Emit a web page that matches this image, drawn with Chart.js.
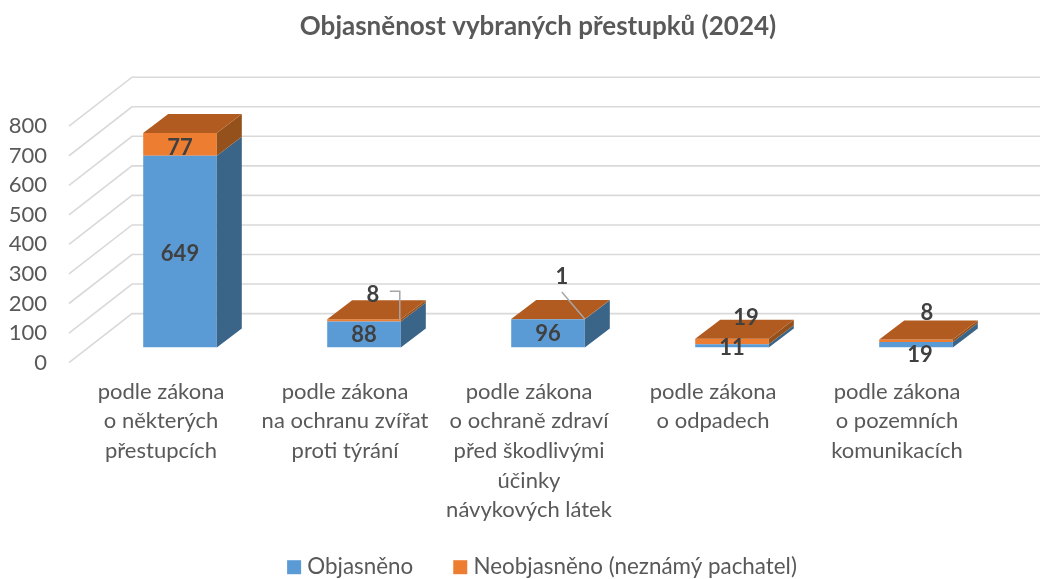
<!DOCTYPE html>
<html lang="cs">
<head>
<meta charset="utf-8">
<style>html,body{margin:0;padding:0;background:#fff}#wrap{width:1040px;height:579px}</style>
<script src="https://cdn.jsdelivr.net/npm/chart.js@4"></script>
</head>
<body>
<div id="wrap"><canvas id="c" width="1040" height="579"></canvas></div>
<script>
const chartTitle = 'Objasněnost vybraných přestupků (2024)';
const categories = [
  ['podle zákona', 'o některých', 'přestupcích'],
  ['podle zákona', 'na ochranu zvířat', 'proti týrání'],
  ['podle zákona', 'o ochraně zdraví', 'před škodlivými', 'účinky', 'návykových látek'],
  ['podle zákona', 'o odpadech'],
  ['podle zákona', 'o pozemních', 'komunikacích']
];
const seriesNames = ['Objasněno', 'Neobjasněno (neznámý pachatel)'];
const solved = [649, 88, 96, 11, 19];
const unsolved = [77, 8, 1, 19, 8];
const yMin = 0, yMax = 800, yStep = 100;

// label nudges from the segment centre, in pixels
const solvedLabelOffsets = [[0,2],[0,0],[0,0],[0,2],[4,10]];
const unsolvedLabelOffsets = [[0,3],[9,-26],[14,-42],[14,-24],[11,-28]];
// leader line bends, in pixels relative to the top-right front corner of the bar
const leaders = {1:[[-11,-28],[-1,-28],[-1,0]], 2:[[-23,-27],[0,0]]};

const FONT = 'Lato, "Open Sans", sans-serif';
const TEXT = '#595959';
const depth = {x:25, y:19};
const wall = {x:63, y:49};
const shift = {x:19, y:-15};
const faces = [
  {front:'#5B9BD5', side:'#3A6589', top:'#3A6589'},
  {front:'#ED7D31', side:'#95511C', top:'#B25B20'}
];

function poly(ctx, pts, fill){
  ctx.beginPath();
  pts.forEach((p,i)=> i? ctx.lineTo(p[0],p[1]) : ctx.moveTo(p[0],p[1]));
  ctx.closePath();
  ctx.fillStyle = fill;
  ctx.fill();
}

const scene3d = {
  id:'scene3d',
  afterLayout(chart){
    // tick text may use the full margin of the canvas
    chart.scales.y.left = 0;
    chart.scales.x.bottom = chart.height;
    // title and legend are centred on the whole picture, not on the plot
    chart.titleBlock.right = chart.width;
    chart.legend.right = 1053;
    chart.legend.top = 511;
  },
  beforeDatasetsDraw(chart){
    const {ctx, scales:{y}, chartArea:a} = chart;
    ctx.save();
    ctx.strokeStyle = '#D9D9D9';
    ctx.lineWidth = 1.6;
    y.ticks.forEach(t=>{
      const py = y.getPixelForValue(t.value);
      ctx.beginPath();
      ctx.moveTo(a.left, py);
      ctx.lineTo(a.left+wall.x, py-wall.y);
      ctx.lineTo(a.right+wall.x, py-wall.y);
      ctx.stroke();
    });
    ctx.restore();
    ctx.save();
    ctx.translate(shift.x, shift.y);
  },
  afterDatasetsDraw(chart){
    const {ctx} = chart;
    const metas = [chart.getDatasetMeta(0), chart.getDatasetMeta(1)];
    metas.forEach((m,d)=>{
      m.data.forEach(b=>{
        const r = b.x + b.width/2;
        const t = Math.min(b.y,b.base), u = Math.max(b.y,b.base);
        poly(ctx, [[r,u],[r+depth.x,u-depth.y],[r+depth.x,t-depth.y],[r,t]], faces[d].side);
      });
    });
    metas[1].data.forEach(b=>{
      const l = b.x - b.width/2, r = b.x + b.width/2, t = b.y;
      poly(ctx, [[l,t],[l+depth.x,t-depth.y],[r+depth.x,t-depth.y],[r,t]], faces[1].top);
    });
    // leader lines
    ctx.strokeStyle = '#A6A6A6';
    ctx.lineWidth = 1.5;
    Object.keys(leaders).forEach(k=>{
      const b = metas[1].data[k], r = b.x + b.width/2, t = b.y;
      ctx.beginPath();
      leaders[k].forEach((p,i)=> i? ctx.lineTo(r+p[0],t+p[1]) : ctx.moveTo(r+p[0],t+p[1]));
      ctx.stroke();
    });
    // value labels
    ctx.fillStyle = '#404040';
    ctx.font = 'bold 22px ' + FONT;
    ctx.textAlign = 'center';
    ctx.textBaseline = 'middle';
    [[solved,solvedLabelOffsets],[unsolved,unsolvedLabelOffsets]].forEach(([vals,offs],d)=>{
      metas[d].data.forEach((b,i)=>{
        ctx.fillText(String(vals[i]), b.x+offs[i][0], (b.y+b.base)/2+offs[i][1]);
      });
    });
    ctx.restore();
  }
};

new Chart(document.getElementById('c'), {
  type:'bar',
  data:{
    labels:categories,
    datasets:[
      {label:seriesNames[0], data:solved, backgroundColor:faces[0].front, borderWidth:0},
      {label:seriesNames[1], data:unsolved, backgroundColor:faces[1].front, borderWidth:0}
    ]
  },
  plugins:[scene3d],
  options:{
    responsive:false,
    animation:false,
    layout:{padding:{left:36,right:51,top:0,bottom:-14}},
    datasets:{bar:{barPercentage:0.4, categoryPercentage:1}},
    scales:{
      x:{
        stacked:true,
        grid:{display:false, drawTicks:false},
        border:{display:false},
        afterFit(s){ s.height = 153; },
        ticks:{color:TEXT, padding:14, autoSkip:false, maxRotation:0, minRotation:0,
          font:{family:FONT, size:22, lineHeight:1.35}}
      },
      y:{
        stacked:true,
        min:yMin, max:yMax,
        grid:{display:false, drawTicks:false},
        border:{display:false},
        afterFit(s){ s.width = 33; },
        ticks:{stepSize:yStep, color:TEXT, padding:22, font:{family:FONT, size:22}}
      }
    },
    plugins:{
      title:{display:true, text:chartTitle, color:TEXT,
        font:{family:FONT, size:26, weight:'bold'}, padding:{top:11,bottom:84}},
      legend:{position:'bottom', labels:{color:TEXT, usePointStyle:true, pointStyle:'rect',
        boxWidth:4, boxHeight:14, padding:45, font:{family:FONT, size:22.4}}},
      tooltip:{enabled:false}
    }
  }
});
</script>
</body>
</html>
